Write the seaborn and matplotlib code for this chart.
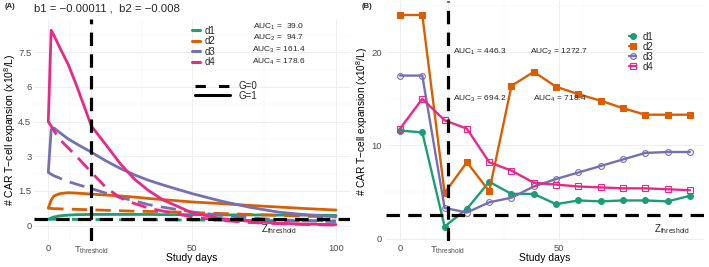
import matplotlib
matplotlib.use('Agg')
from matplotlib import pyplot as plt
from matplotlib.lines import Line2D
import pandas as pd
import seaborn as sns

# ---- panel A: model curves ----
days_a = [0, 1, 2, 4, 7, 10, 15, 20, 25, 30, 35, 40, 50, 60, 70, 80, 90, 100]
d1_g1 = [0.27, 0.33, 0.37, 0.42, 0.45, 0.47, 0.48, 0.48, 0.48, 0.48, 0.48, 0.47, 0.47, 0.46, 0.46, 0.45, 0.45, 0.44]
d1_g0 = [0.27, 0.27, 0.27, 0.27, 0.27, 0.26, 0.26, 0.26, 0.25, 0.25, 0.25, 0.24, 0.24, 0.23, 0.22, 0.21, 0.21, 0.20]
d2_g1 = [0.75, 1.10, 1.28, 1.38, 1.42, 1.40, 1.36, 1.32, 1.28, 1.23, 1.17, 1.12, 1.02, 0.95, 0.87, 0.80, 0.73, 0.67]
d2_g0 = [0.75, 0.74, 0.73, 0.72, 0.71, 0.70, 0.68, 0.66, 0.64, 0.62, 0.61, 0.60, 0.56, 0.52, 0.48, 0.44, 0.40, 0.37]
d3_g1 = [2.30, 4.15, 4.22, 4.02, 3.74, 3.52, 3.17, 2.80, 2.47, 2.19, 1.95, 1.75, 1.38, 1.06, 0.79, 0.58, 0.46, 0.38]
d3_g0 = [2.30, 2.22, 2.15, 2.05, 1.90, 1.78, 1.60, 1.40, 1.22, 1.06, 0.90, 0.79, 0.59, 0.44, 0.33, 0.25, 0.20, 0.17]
d4_g1 = [4.50, 8.45, 8.22, 7.70, 6.95, 6.00, 4.30, 3.50, 2.68, 2.00, 1.50, 1.10, 0.55, 0.30, 0.18, 0.10, 0.06, 0.04]
d4_g0 = [4.50, 4.30, 4.10, 3.72, 3.35, 2.97, 2.30, 1.65, 1.20, 0.95, 0.75, 0.62, 0.37, 0.22, 0.13, 0.08, 0.04, 0.02]
auc_a = [39.0, 94.7, 161.4, 178.6]

# ---- panel B: observed data ----
days_b = [0, 7, 14, 21, 28, 35, 42, 49, 56, 63, 70, 77, 84, 91]
obs_d1 = [11.6, 11.4, 1.3, 3.2, 6.1, 4.8, 4.8, 3.7, 4.1, 4.0, 4.1, 4.1, 4.0, 4.6]
obs_d2 = [24.0, 24.0, 4.9, 8.2, 5.1, 16.4, 17.9, 16.3, 15.5, 14.8, 14.0, 13.3, 13.3, 13.3]
obs_d3 = [17.5, 17.5, 3.3, 2.8, 3.9, 4.4, 5.6, 6.4, 7.1, 7.8, 8.5, 9.2, 9.3, 9.3]
obs_d4 = [11.8, 15.0, 12.7, 11.8, 8.2, 7.3, 6.0, 5.8, 5.6, 5.5, 5.4, 5.4, 5.3, 5.2]
auc_b = [446.3, 1272.7, 694.2, 718.4]

groups = ['d1', 'd2', 'd3', 'd4']
t_threshold = 15
z_threshold_a = 0.27
z_threshold_b = 2.5

sns.set_theme(style='whitegrid')
plt.rcParams['font.family'] = ['Liberation Sans', 'DejaVu Sans']
plt.rcParams['mathtext.fontset'] = 'custom'
plt.rcParams['mathtext.rm'] = 'Liberation Sans'
plt.rcParams['mathtext.it'] = 'Liberation Sans:italic'
plt.rcParams['mathtext.default'] = 'regular'

pal = dict(zip(groups, sns.color_palette('Dark2', 4)))

rows = []
curves = {('d1', 0): d1_g0, ('d1', 1): d1_g1, ('d2', 0): d2_g0, ('d2', 1): d2_g1,
          ('d3', 0): d3_g0, ('d3', 1): d3_g1, ('d4', 0): d4_g0, ('d4', 1): d4_g1}
for (d, g), vals in curves.items():
    for t, v in zip(days_a, vals):
        rows.append({'day': t, 'value': v, 'd': d, 'G': g})
df_a = pd.DataFrame(rows)

df_b = pd.DataFrame({'day': days_b * 4,
                     'value': obs_d1 + obs_d2 + obs_d3 + obs_d4,
                     'd': [g for g in groups for _ in days_b]})

W, H = 709, 267
fig = plt.figure(figsize=(W / 100, H / 100), dpi=100)
fig.patch.set_facecolor('white')


def px_axes(x0, x1, y0, y1):
    return fig.add_axes([x0 / W, 1 - y1 / H, (x1 - x0) / W, (y1 - y0) / H])


ax_a = px_axes(33.9, 350.4, 18.5, 241)
ax_b = px_axes(385.5, 704.4, 1, 241)

tick_col = '#4D4D4D'
for ax in (ax_a, ax_b):
    ax.set_facecolor('white')
    for s in ax.spines.values():
        s.set_visible(False)
    ax.tick_params(which='both', length=0, labelsize=6.8, colors=tick_col)
    ax.tick_params(axis='x', pad=2.2)
    ax.tick_params(axis='y', pad=1.8)
    ax.grid(which='major', color='#EBEBEB', lw=0.6)
    ax.grid(which='minor', color='#F4F4F4', lw=0.35)

# ---- panel A ----
sns.lineplot(data=df_a, x='day', y='value', hue='d', style='G', palette=pal,
             dashes={0: (5.5, 3), 1: ''}, linewidth=2.0, legend=False, ax=ax_a)
ax_a.axvline(t_threshold, color='black', lw=2.3, dashes=(4.2, 2.6), zorder=5)
ax_a.axhline(z_threshold_a, color='black', lw=2.3, dashes=(4.2, 2.6), zorder=5)
ax_a.set_xlim(-5, 105)
ax_a.set_ylim(-0.67, 8.96)
ax_a.set_xticks([0, 15, 50, 100])
ax_a.set_xticklabels(['0', '$T_{threshold}$', '50', '100'])
ax_a.set_xticks([7.5, 32.5, 75], minor=True)
ax_a.set_yticks([0, 1.5, 3, 4.5, 6, 7.5])
ax_a.set_yticklabels(['0', '1.5', '3', '4.5', '6', '7.5'])
ax_a.set_yticks([0.75, 2.25, 3.75, 5.25, 6.75, 8.25], minor=True)
for i, (v, y) in enumerate(zip(auc_a, [8.6, 8.1, 7.6, 7.1])):
    ax_a.text(80, y, f'AUC$_{i + 1}$ = {v:5.1f}', ha='center', va='center', fontsize=6)
ax_a.text(80, -0.3, '$Z_{threshold}$', ha='center', va='baseline', fontsize=7)

h_col = [Line2D([], [], color=pal[g], lw=2.2) for g in groups]
leg1 = ax_a.legend(h_col, groups, loc='upper left', bbox_to_anchor=(191.7 / W, 1 - 25.8 / H),
                   bbox_transform=fig.transFigure, frameon=False, fontsize=7,
                   handlelength=0.85, handletextpad=0.5, labelspacing=0.05,
                   borderpad=0, borderaxespad=0)
ax_a.add_artist(leg1)
h_g = [Line2D([], [], color='black', lw=2.2, dashes=(3.4, 4.3)),
       Line2D([], [], color='black', lw=2.2)]
ax_a.legend(h_g, ['G=0', 'G=1'], loc='upper left', bbox_to_anchor=(195 / W, 1 - 81 / H),
            bbox_transform=fig.transFigure, frameon=False, fontsize=7,
            handlelength=3.6, handletextpad=0.85, labelspacing=-0.05,
            borderpad=0, borderaxespad=0)

ax_a.set_xlabel('Study days', fontsize=7.5, color='black', va='center')
ax_a.set_ylabel('# CAR T\u2212cell expansion (x10$^{8}$/L)', fontsize=7.5, color='black', va='center')
ax_a.xaxis.set_label_coords(0.5, -0.075)
ax_a.yaxis.set_label_coords(-0.076, 0.5)

# ---- panel B ----
markers = {'d1': ('o', True), 'd2': ('s', True), 'd3': ('o', False), 'd4': ('s', False)}
for g in groups:
    m, filled = markers[g]
    sub = df_b[df_b['d'] == g]
    sns.lineplot(data=sub, x='day', y='value', color=pal[g], linewidth=1.7,
                 marker=m, markersize=4.2, markeredgewidth=0.8,
                 markerfacecolor=pal[g] if filled else 'none',
                 markeredgecolor=pal[g], legend=False, ax=ax_b)
ax_b.axvline(t_threshold, color='black', lw=2.3, dashes=(4.2, 2.6), zorder=5)
ax_b.axhline(z_threshold_b, color='black', lw=2.3, dashes=(4.2, 2.6), zorder=5)
ax_b.set_xlim(-4.55, 95.55)
ax_b.set_ylim(-0.25, 25.5)
ax_b.set_xticks([0, 15, 50])
ax_b.set_xticklabels(['0', '$T_{threshold}$', '50'])
ax_b.set_xticks([7.5, 32.5, 57.5], minor=True)
ax_b.set_yticks([0, 10, 20])
ax_b.set_yticks([5, 15, 25], minor=True)
ax_b.tick_params(axis='y', pad=2.7)
for i, (x, y) in enumerate([(25, 20), (50, 20), (25, 15), (50, 15)]):
    ax_b.text(x, y, f'AUC$_{i + 1}$ = {auc_b[i]:.1f}', ha='center', va='center', fontsize=6)
ax_b.text(85.4, 0.72, '$Z_{threshold}$', ha='center', va='baseline', fontsize=7)

h_b = [Line2D([], [], color=pal[g], lw=1.7, marker=markers[g][0], markersize=4.2,
              markeredgewidth=0.8, markerfacecolor=pal[g] if markers[g][1] else 'none')
       for g in groups]
ax_b.legend(h_b, groups, loc='upper left', bbox_to_anchor=(629 / W, 1 - 31.6 / H),
            bbox_transform=fig.transFigure, frameon=False, fontsize=7,
            handlelength=0.75, handletextpad=0.65, labelspacing=0.0,
            borderpad=0, borderaxespad=0)

ax_b.set_xlabel('Study days', fontsize=7.5, color='black', va='center')
ax_b.set_ylabel('# CAR T\u2212cell expansion (x10$^{8}$/L)', fontsize=7.3, color='black', va='center')
ax_b.xaxis.set_label_coords(0.5, -0.0696)
ax_b.yaxis.set_label_coords(-0.073, 0.5)

# titles and tags
fig.text(33.5 / W, 1 - 8.5 / H, 'b1 = \u22120.00011 ,  b2 = \u22120.008', ha='left', va='center', fontsize=8.2)
fig.text(5 / W, 1 - 7 / H, '(A)', ha='left', va='center', fontsize=5.5, fontweight='bold')
fig.text(362 / W, 1 - 7 / H, '(B)', ha='left', va='center', fontsize=5.5, fontweight='bold')

fig.savefig('out.png', dpi=100)
